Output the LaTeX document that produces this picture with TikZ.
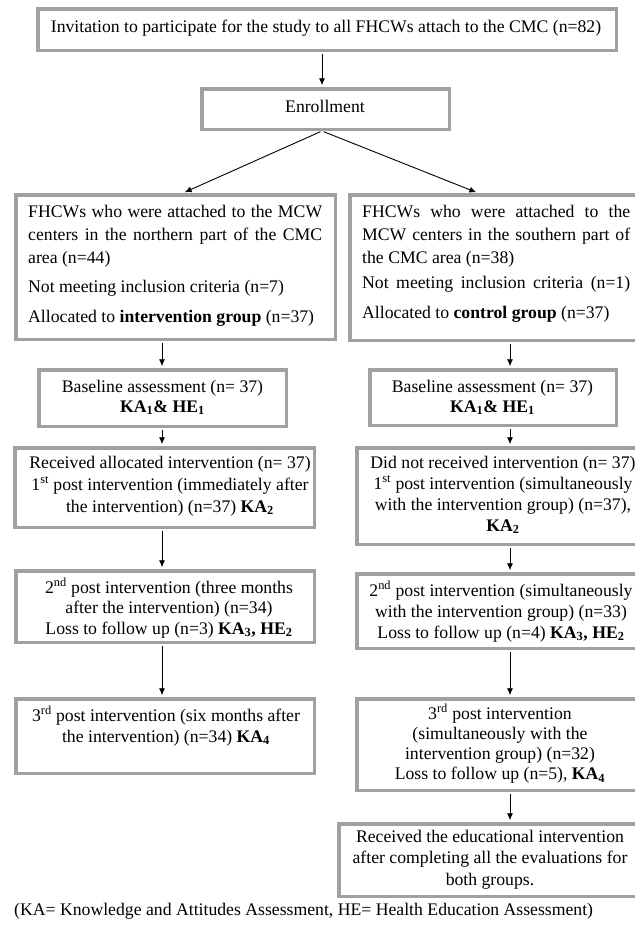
\documentclass[tikz,border=0pt]{standalone}
\usepackage{fontspec}
\setmainfont{Liberation Serif}
\usetikzlibrary{arrows.meta}
\definecolor{boxgray}{RGB}{160,160,160}
\newcommand{\st}{\rule{0pt}{14pt}}
\begin{document}
\begin{tikzpicture}[x=1pt,y=-1pt,
  box/.style={draw=boxgray, line width=3.5pt, rectangle, inner sep=0pt},
  txt/.style={inner sep=0pt, font=\fontsize{17.7}{21}\selectfont, align=center, anchor=north},
  arr/.style={-{Latex[length=7pt,width=6pt]}, line width=0.9pt, black, shorten <=1.75pt, shorten >=1.75pt}]
\useasboundingbox (0,0) rectangle (635,938);
\clip (0,0) rectangle (635,938);

% boxes
\node[box, minimum width=578.5pt, minimum height=41.5pt] (b1) at (327,29.5) {};
\node[box, minimum width=247.5pt, minimum height=40.5pt] (enr) at (325.5,109) {};
\node[box, minimum width=319.5pt, minimum height=144.5pt] (L2) at (175.5,267) {};
\node[box, minimum width=292.5pt, minimum height=145.5pt] (R2) at (496,267.5) {};
\node[box, minimum width=247.5pt, minimum height=56.5pt] (LB) at (162.5,398) {};
\node[box, minimum width=246.5pt, minimum height=55.5pt] (RB) at (493,397.5) {};
\node[box, minimum width=299.5pt, minimum height=79.5pt] (L4) at (164.5,487.5) {};
\node[box, minimum width=294.5pt, minimum height=96.5pt] (R4) at (504,496) {};
\node[box, minimum width=298.5pt, minimum height=71.5pt] (L5) at (165,606.5) {};
\node[box, minimum width=288.5pt, minimum height=74.5pt] (R5) at (501,611) {};
\node[box, minimum width=298.5pt, minimum height=74.5pt] (L6) at (165,736) {};
\node[box, minimum width=286.5pt, minimum height=91.5pt] (R6) at (500,744.5) {};
\node[box, minimum width=302.5pt, minimum height=72.5pt] (R7) at (490,860) {};

% texts
\node[txt] (t1) at (326,18) {\st Invitation to participate for the study to all FHCWs attach to the CMC (n=82)};
\node[txt] (tenr) at (325,98) {\st Enrollment};
\node[txt, anchor=north west, align=left, font=\fontsize{17.7}{23}\selectfont] (tL2) at (28,203) {%
\st\makebox[294pt][s]{FHCWs who were attached to the MCW}\\
\makebox[294pt][s]{centers in the northern part of the CMC}\\
area (n=44)\\[6pt]
Not meeting inclusion criteria (n=7)\\[7pt]
Allocated to \textbf{intervention group} (n=37)};
\node[txt, anchor=north west, align=left, font=\fontsize{17.7}{23}\selectfont] (tR2) at (362,203) {%
\st\makebox[268pt][s]{FHCWs who were attached to the}\\
\makebox[268pt][s]{MCW centers in the southern part of}\\
the CMC area (n=38)\\[2pt]
\makebox[268pt][s]{Not meeting inclusion criteria (n=1)}\\[7pt]
Allocated to \textbf{control group} (n=37)};
\node[txt, font=\fontsize{17.7}{20}\selectfont] (tLB) at (162.5,378) {\st Baseline assessment (n= 37)\\ \textbf{KA\textsubscript{1}\& HE\textsubscript{1}}};
\node[txt, font=\fontsize{17.7}{20}\selectfont] (tRB) at (492.5,378) {\st Baseline assessment (n= 37)\\ \textbf{KA\textsubscript{1}\& HE\textsubscript{1}}};
\node[txt, font=\fontsize{17.7}{22}\selectfont] (tL4) at (170,454) {\st Received allocated intervention (n= 37)\\
1\textsuperscript{st} post intervention (immediately after\\
the intervention) (n=37) \textbf{KA\textsubscript{2}}};
\node[txt, font=\fontsize{17.7}{21}\selectfont] (tR4) at (503,454) {\st Did not received intervention (n= 37)\\
1\textsuperscript{st} post intervention (simultaneously\\
with the intervention group) (n=37),\\
\textbf{KA\textsubscript{2}}};
\node[txt, font=\fontsize{17.7}{20.5}\selectfont] (tL5) at (169,578) {\st 2\textsuperscript{nd} post intervention (three months\\
after the intervention) (n=34)\\
Loss to follow up (n=3) \textbf{KA\textsubscript{3}, HE\textsubscript{2}}};
\node[txt, font=\fontsize{17.7}{21}\selectfont] (tR5) at (501,581) {\st 2\textsuperscript{nd} post intervention (simultaneously\\
with the intervention group) (n=33)\\
Loss to follow up (n=4) \textbf{KA\textsubscript{3}, HE\textsubscript{2}}};
\node[txt, font=\fontsize{17.7}{21}\selectfont] (tL6) at (166,706) {\st 3\textsuperscript{rd} post intervention (six months after\\
the intervention) (n=34) \textbf{KA\textsubscript{4}}};
\node[txt, font=\fontsize{17.7}{20.3}\selectfont] (tR6) at (500,704) {\st 3\textsuperscript{rd} post intervention\\
(simultaneously with the\\
intervention group) (n=32)\\
Loss to follow up (n=5), \textbf{KA\textsubscript{4}}};
\node[txt, font=\fontsize{17.7}{21.5}\selectfont] (tR7) at (490,828) {\st Received the educational intervention\\
after completing all the evaluations for\\
both groups.};
\node[txt, anchor=base west] (fn) at (14,915) {(KA= Knowledge and Attitudes Assessment, HE= Health Education Assessment)};

% connector x positions
\coordinate (xa) at (322,0);
\coordinate (xl) at (162,0);
\coordinate (xr) at (510,0);
\coordinate (xdl) at (183,0);
\coordinate (xdr) at (478,0);

\draw[arr] (b1.south -| xa) -- (enr.north -| xa);
\draw[arr] (enr.south -| xa) -- (L2.north -| xdl);
\draw[arr] (enr.south -| xa) -- (R2.north -| xdr);
\draw[arr] (L2.south -| xl) -- (LB.north -| xl);
\draw[arr] (R2.south -| xr) -- (RB.north -| xr);
\draw[arr] (LB.south -| xl) -- (L4.north -| xl);
\draw[arr] (RB.south -| xr) -- (R4.north -| xr);
\draw[arr] (L4.south -| xl) -- (L5.north -| xl);
\draw[arr] (R4.south -| xr) -- (R5.north -| xr);
\draw[arr] (L5.south -| xl) -- (L6.north -| xl);
\draw[arr] (R5.south -| xr) -- (R6.north -| xr);
\draw[arr] (R6.south -| xr) -- (R7.north -| xr);
\end{tikzpicture}
\end{document}
